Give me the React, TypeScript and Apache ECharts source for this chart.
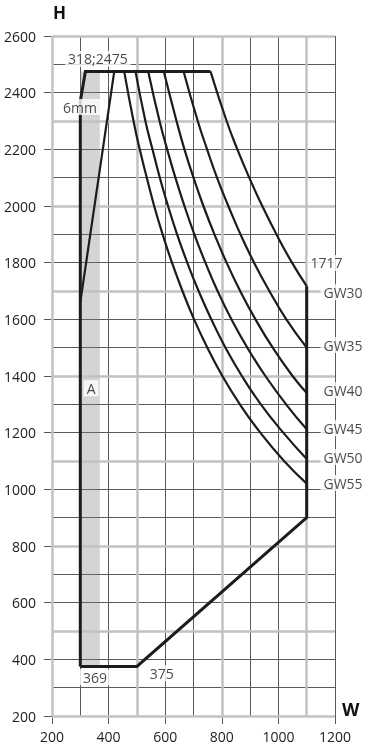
import React, { useEffect, useRef } from "react";
import * as echarts from "echarts";

const FONT = "'Open Sans', 'Noto Sans', sans-serif";

// outer boundary of the admissible region
const outlineLeft: number[][] = [[300, 375], [300, 2370], [318, 2475], [760, 2475]];
const outlineRight: number[][] = [[1100, 1717], [1100, 900], [500, 375], [300, 375]];
// inner slanted line
const innerSlant: number[][] = [[300, 1660], [420, 2475]];
// shaded 6mm band
const bandX = [300, 369];
const bandY = [375, 2475];
// emphasised grid lines
const grayX = [200, 500, 800, 1100];
const grayY = [200, 500, 800, 1100, 1400, 1700, 2000, 2300, 2600];

// curves GW30..GW55
const gw30: number[][] = [[760, 2475], [817, 2300], [855, 2200], [897, 2100], [943, 2000], [993, 1900], [1048, 1800], [1100, 1717]];
const gw35: number[][] = [[665, 2475], [715, 2300], [748, 2200], [783, 2100], [823, 2000], [866, 1900], [914, 1800], [968, 1700], [1028, 1600], [1100, 1500]];
const gw40: number[][] = [[595, 2475], [640, 2300], [668, 2200], [700, 2100], [735, 2000], [774, 1900], [817, 1800], [865, 1700], [919, 1600], [980, 1500], [1050, 1400], [1100, 1340]];
const gw45: number[][] = [[540, 2475], [580, 2300], [607, 2200], [636, 2100], [668, 2000], [703, 1900], [742, 1800], [785, 1700], [834, 1600], [890, 1500], [954, 1400], [1027, 1300], [1100, 1212]];
const gw50: number[][] = [[495, 2475], [530, 2300], [555, 2200], [581, 2100], [610, 2000], [642, 1900], [678, 1800], [718, 1700], [763, 1600], [813, 1500], [871, 1400], [938, 1300], [1017, 1200], [1100, 1107]];
const gw55: number[][] = [[455, 2475], [488, 2300], [510, 2200], [535, 2100], [561, 2000], [591, 1900], [624, 1800], [661, 1700], [702, 1600], [749, 1500], [802, 1400], [864, 1300], [936, 1200], [1020, 1100], [1100, 1020]];
const curves = [gw30, gw35, gw40, gw45, gw50, gw55];

// annotation texts
const centerLabels: { text: string; value: number[] }[] = [
  { text: "318;2475", value: [362, 2519] },
  { text: "6mm", value: [299, 2349] },
  { text: "A", value: [338, 1357] },
  { text: "369", value: [352, 337] },
  { text: "375", value: [588, 351] },
  { text: "1717", value: [1170, 1799] },
];
const gwLabels: { text: string; value: number[] }[] = [
  { text: "GW30", value: [1147, 1696] },
  { text: "GW35", value: [1147, 1509] },
  { text: "GW40", value: [1147, 1350] },
  { text: "GW45", value: [1147, 1216] },
  { text: "GW50", value: [1147, 1114] },
  { text: "GW55", value: [1147, 1022] },
];

const INK = "#1c1c1c";
const GRID = "#5a5a5a";
const GRAY = "#c2c2c2";

export default function App() {
  const ref = useRef<HTMLDivElement>(null);
  useEffect(() => {
    if (!ref.current) return;
    const chart = echarts.init(ref.current, undefined, { renderer: "svg" });
    const axisCommon = {
      type: "value" as const,
      interval: 200,
      axisLine: { show: false },
      axisTick: { show: true, length: 8, lineStyle: { color: GRID, width: 1 } },
      splitLine: { show: true, lineStyle: { color: GRID, width: 1 } },
      minorTick: { show: false, splitNumber: 2 },
      minorSplitLine: { show: true, lineStyle: { color: GRID, width: 1 } },
    };
    const lineSeries = (data: number[][], width: number, smooth: boolean, z = 3) => ({
      type: "line",
      data,
      smooth,
      symbol: "none",
      silent: true,
      z,
      lineStyle: { color: INK, width, cap: "butt", join: "miter" },
    });
    chart.setOption({
      animation: false,
      grid: { left: 52, right: 40, top: 36, bottom: 35 },
      xAxis: {
        ...axisCommon,
        min: 200,
        max: 1200,
        axisLabel: { margin: 13, color: "#222", fontSize: 14, fontFamily: FONT, formatter: (v: number) => String(v) },
      },
      yAxis: {
        ...axisCommon,
        min: 200,
        max: 2600,
        axisLabel: { margin: 16, color: "#222", fontSize: 14, fontFamily: FONT, formatter: (v: number) => String(v) },
      },
      graphic: [
        { type: "text", left: 53, top: 4, style: { text: "H", font: `bold 17px ${FONT}`, fill: "#111" } },
        { type: "text", left: 342, top: 700, style: { text: "W", font: `bold 18px ${FONT}`, fill: "#111" } },
      ],
      series: [
        {
          type: "line",
          data: [],
          z: 1,
          silent: true,
          markLine: {
            silent: true,
            z: 1,
            symbol: ["none", "none"],
            label: { show: false },
            lineStyle: { color: GRAY, width: 2.5, type: "solid" },
            data: [...grayX.map((v) => ({ xAxis: v })), ...grayY.map((v) => ({ yAxis: v }))],
          },
          markArea: {
            silent: true,
            z: 1,
            itemStyle: { color: "rgba(120,124,132,0.33)" },
            data: [[{ xAxis: bandX[0], yAxis: bandY[0] }, { xAxis: bandX[1], yAxis: bandY[1] }]],
          },
        },
        lineSeries(outlineLeft, 3, false),
        lineSeries(outlineRight, 3, false),
        lineSeries(innerSlant, 2.2, false),
        ...curves.map((c) => lineSeries(c, 2.2, true)),
        {
          type: "scatter",
          z: 10,
          silent: true,
          symbolSize: 1,
          itemStyle: { color: "rgba(0,0,0,0)" },
          label: {
            show: true,
            position: "inside",
            formatter: (p: any) => p.data.name,
            color: "#1a1a1a",
            fontSize: 14,
            fontFamily: FONT,
            backgroundColor: "#fff",
            padding: [1, 3],
          },
          data: centerLabels.map((l) => ({ name: l.text, value: l.value })),
        },
        {
          type: "scatter",
          z: 10,
          silent: true,
          symbolSize: 1,
          itemStyle: { color: "rgba(0,0,0,0)" },
          label: {
            show: true,
            position: "right",
            distance: 0,
            formatter: (p: any) => p.data.name,
            color: "#1a1a1a",
            fontSize: 14,
            fontFamily: FONT,
            backgroundColor: "#fff",
            padding: [1, 3],
          },
          data: gwLabels.map((l) => ({ name: l.text, value: l.value })),
        },
      ],
    });
    return () => chart.dispose();
  }, []);
  return <div ref={ref} style={{ position: "fixed", left: 0, top: 0, width: 375, height: 751 }} />;
}
